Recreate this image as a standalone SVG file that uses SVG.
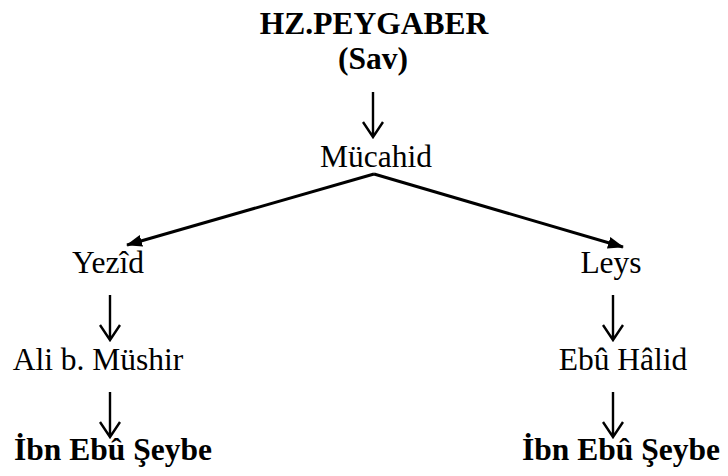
<svg xmlns="http://www.w3.org/2000/svg" width="728" height="476" viewBox="0 0 728 476">
<style>
text{font-family:"Liberation Serif","Times New Roman",serif;font-size:31.5px;fill:#000}
.b{font-weight:bold}
.down{stroke:#000;stroke-width:2.4;fill:none}
.diag{stroke:#000;stroke-width:3;fill:none}
</style>
<defs>
<marker id="tri" viewBox="0 0 16 12" refX="15" refY="6" markerWidth="16" markerHeight="12" markerUnits="userSpaceOnUse" orient="auto">
<path d="M0,0 L16,6 L0,12 Z" fill="#000"/>
</marker>
</defs>
<rect width="728" height="476" fill="#fff"/>
<g id="n-peygamber"><text class="b" x="374" y="34" text-anchor="middle">HZ.PEYGABER</text><text class="b" x="373" y="69" text-anchor="middle">(Sav)</text></g>
<g id="n-mucahid"><text x="376" y="167" text-anchor="middle">Mücahid</text></g>
<g id="n-yezid"><text x="108" y="273" text-anchor="middle">Yezîd</text></g>
<g id="n-leys"><text x="611" y="273" text-anchor="middle">Leys</text></g>
<g id="n-ali"><text x="98" y="370" text-anchor="middle">Ali b. Müshir</text></g>
<g id="n-ebuhalid"><text x="623" y="370" text-anchor="middle">Ebû Hâlid</text></g>
<g id="n-ibn1"><text class="b" x="113" y="460" text-anchor="middle">İbn Ebû Şeybe</text></g>
<g id="n-ibn2"><text class="b" x="621" y="460" text-anchor="middle">İbn Ebû Şeybe</text></g>
<g id="connectors">
<path class="down" d="M373,92 V137 M363,122 L373,137 L383,122"/>
<path class="down" d="M110,295 V340 M100,325 L110,340 L120,325"/>
<path class="down" d="M110,392 V437 M100,422 L110,437 L120,422"/>
<path class="down" d="M613,295 V340 M603,325 L613,340 L623,325"/>
<path class="down" d="M613,392 V437 M603,422 L613,437 L623,422"/>
<line class="diag" x1="374" y1="174" x2="127" y2="245" marker-end="url(#tri)"/>
<line class="diag" x1="374" y1="174" x2="623" y2="247" marker-end="url(#tri)"/>
</g>
</svg>
